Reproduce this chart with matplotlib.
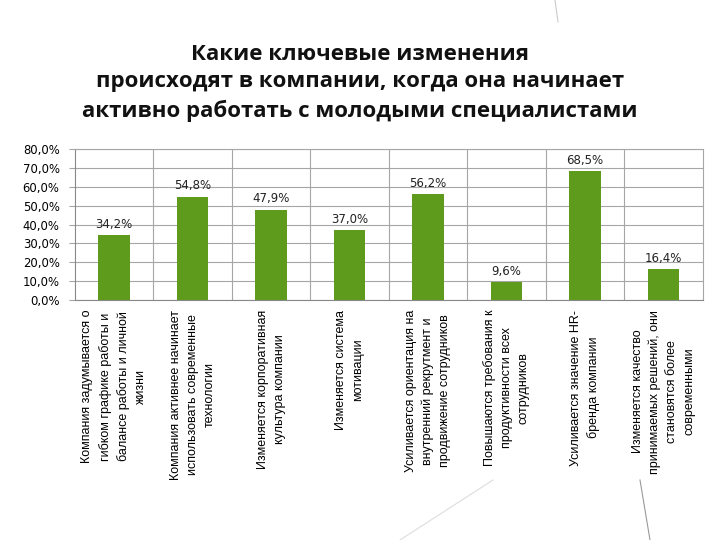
import matplotlib.pyplot as plt
from matplotlib.lines import Line2D
from matplotlib.ticker import FuncFormatter, MultipleLocator

# data
categories = [
    "Компания задумывается о\nгибком графике работы и\nбалансе работы и личной\nжизни",
    "Компания активнее начинает\nиспользовать современные\nтехнологии",
    "Изменяется корпоративная\nкультура компании",
    "Изменяется система\nмотивации",
    "Усиливается ориентация на\nвнутренний рекрутмент и\nпродвижение сотрудников",
    "Повышаются требования к\nпродуктивности всех\nсотрудников",
    "Усиливается значение HR-\nбренда компании",
    "Изменяется качество\nпринимаемых решений, они\nстановятся более\nсовременными",
]
values = [34.2, 54.8, 47.9, 37.0, 56.2, 9.6, 68.5, 16.4]
title = ("Какие ключевые изменения\n"
         "происходят в компании, когда она начинает\n"
         "активно работать с молодыми специалистами")

BAR = "#5e9a1c"
GRID = "#a6a6a6"


def pct(v, pos=None):
    return f"{v:.1f}%".replace(".", ",")


fig = plt.figure(figsize=(7.2, 5.4), dpi=100)
fig.text(0.5, 0.919, title, ha="center", va="top", fontsize=16,
         fontweight="bold", family=["Open Sans", "DejaVu Sans"],
         linespacing=1.42, color="#111111")

# faint slide decoration lines (pixel coords -> figure fraction)
W, H = 720.0, 540.0
for (x0, y0), (x1, y1), c in [((400, 540), (493, 480), "#dddddd"),
                              ((640, 480), (650, 540), "#999999"),
                              ((555, 0), (558, 22), "#cccccc")]:
    fig.add_artist(Line2D([x0 / W, x1 / W], [1 - y0 / H, 1 - y1 / H],
                          color=c, lw=0.8))

ax = fig.add_axes([0.104, 0.4444, 0.872, 0.2796])
x = list(range(len(values)))
ax.bar(x, values, width=0.4, color=BAR, zorder=3)

for xi, v in zip(x, values):
    ax.text(xi, v + 2.2, pct(v), ha="center", va="bottom", fontsize=8.5,
            family="DejaVu Sans", color="#222222")

ax.set_xlim(-0.5, len(values) - 0.5)
ax.set_ylim(0, 80)
ax.yaxis.set_major_locator(MultipleLocator(10))
ax.yaxis.set_major_formatter(FuncFormatter(pct))
ax.grid(axis="y", color=GRID, lw=0.8, zorder=0)
for b in range(1, len(values)):
    ax.axvline(b - 0.5, color=GRID, lw=0.8, zorder=0)

ax.set_xticks(x)
ax.set_xticklabels(categories, rotation=90, ha="center", va="top",
                   multialignment="center", fontsize=9, linespacing=1.55,
                   family=["Liberation Sans Narrow", "Liberation Sans"])
ax.tick_params(axis="x", length=0, pad=7)
ax.tick_params(axis="y", length=4, labelsize=8.4, color=GRID, pad=7)
for s in ["top", "right"]:
    ax.spines[s].set_color(GRID)
for s in ["left", "bottom"]:
    ax.spines[s].set_color("#888888")

fig.savefig("out.png", dpi=100)
